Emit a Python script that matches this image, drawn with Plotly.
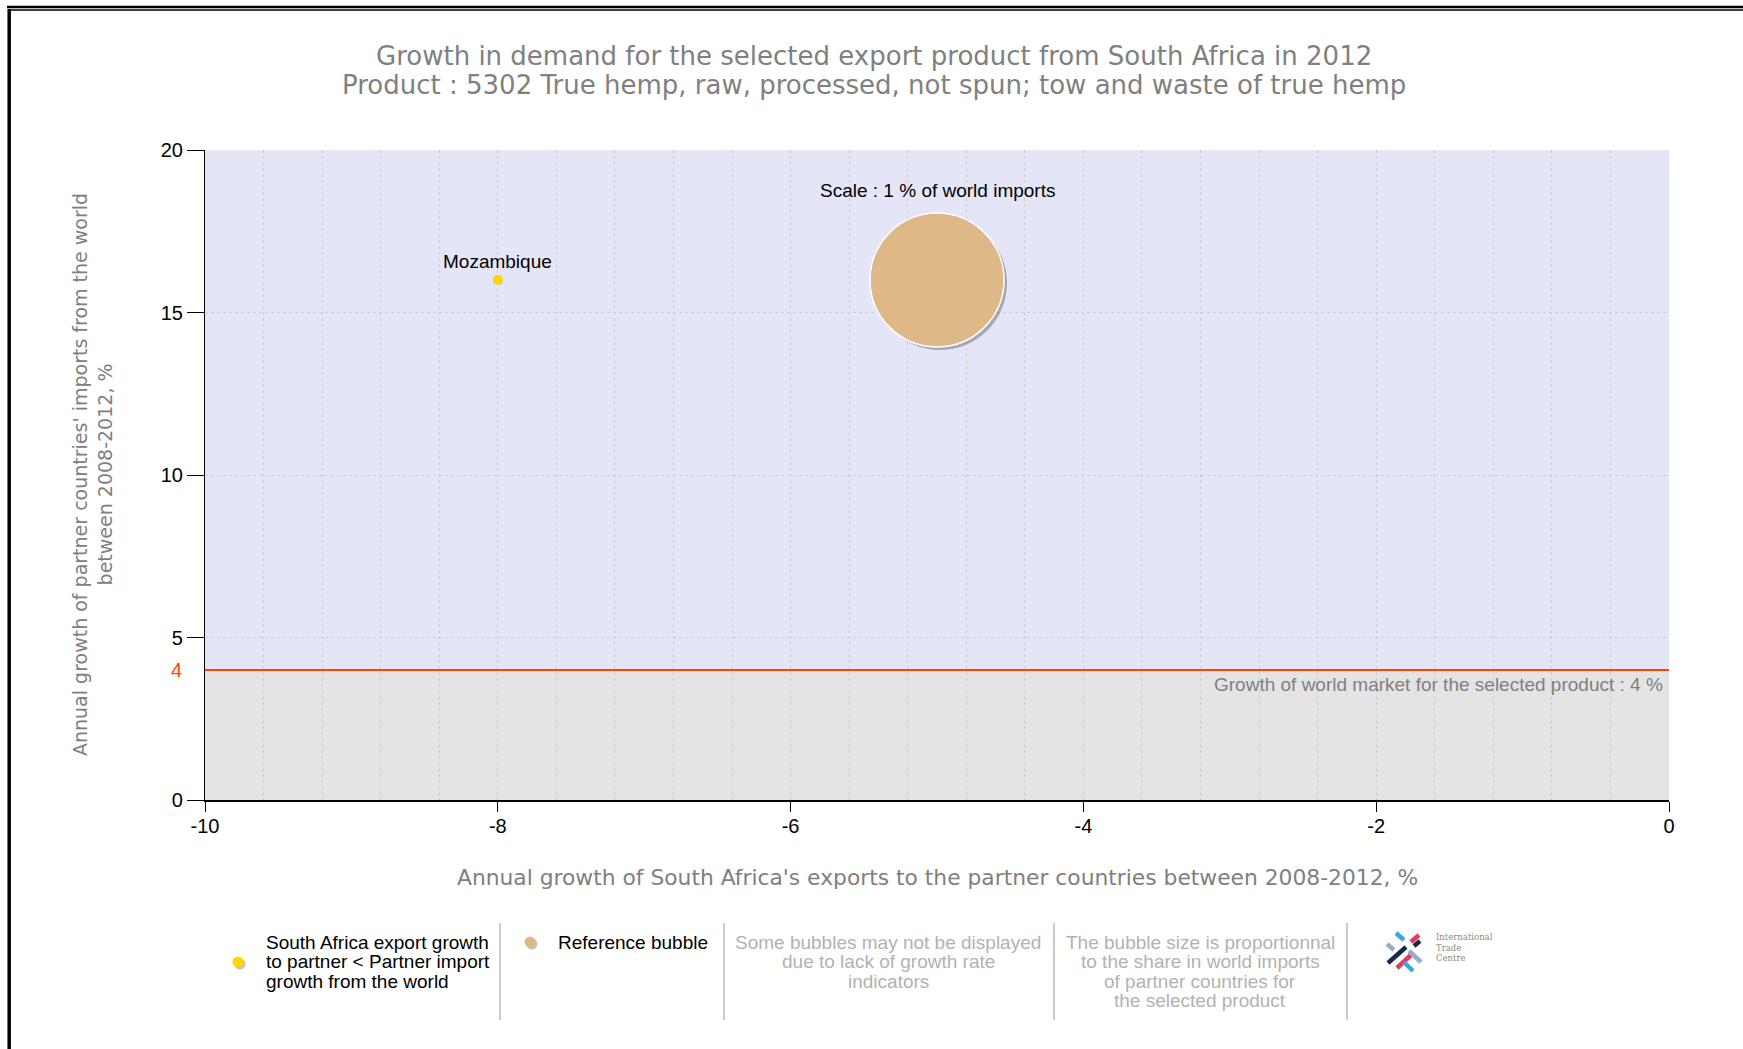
import plotly.graph_objects as go

# ---------------- data ----------------
countries = ["Mozambique"]
export_growth = [-8]          # x, %
import_growth = [16]          # y, %
world_share = [0.002]         # % of world imports (bubble area)

ref_label = ["Scale : 1 % of world imports"]
ref_x = [-5]
ref_y = [16]
ref_share = [1]

world_growth = 4
x_range = [-10, 0]
y_range = [0, 20]
x_ticks = [-10, -8, -6, -4, -2, 0]
y_ticks = [0, 5, 10, 15, 20]

title_lines = ["Growth in demand for the selected export product from South Africa in 2012",
               "Product : 5302 True hemp, raw, processed, not spun; tow and waste of true hemp"]
x_title = "Annual growth of South Africa's exports to the partner countries between 2008-2012, %"
y_title = "Annual growth of partner countries' imports from the world<br>between 2008-2012, %"
world_text = "Growth of world market for the selected product : 4 %"

legend1 = ["South Africa export growth", "to partner < Partner import", "growth from the world"]
legend2 = ["Reference bubble"]
legend3 = ["Some bubbles may not be displayed", "due to lack of growth rate", "indicators"]
legend4 = ["The bubble size is proportionnal", "to the share in world imports",
           "of partner countries for", "the selected product"]

# ---------------- geometry ----------------
WIDTH, HEIGHT = 1743, 1049
L, R, T, B = 205, 74, 150, 249
PW = WIDTH - L - R
PH = HEIGHT - T - B
REF_DIAM = 134.0
SIZEREF = 2.0 * ref_share[0] / REF_DIAM ** 2


def PX(x):
    return (x - L) / PW


def PY(y):
    return (HEIGHT - B - y) / PH


def diam(share):
    return REF_DIAM * (share / ref_share[0]) ** 0.5


LAV = "#E5E5F8"
GREY_BG = "#E4E4E4"
ORANGE = "#FF4500"
GRID = "#CDCDCD"
TXT_GREY = "#808080"
LIGHT_GREY = "#B2B2B2"
TAN = "#DEB887"
YELLOW = "#FFD700"
LBL = 19

fig = go.Figure()

# partner bubbles
fig.add_trace(go.Scatter(
    x=export_growth, y=import_growth, mode="markers",
    marker=dict(size=world_share, sizemode="area", sizeref=SIZEREF, sizemin=5,
                color=YELLOW, opacity=1, line=dict(width=0)),
    hoverinfo="text", text=countries, showlegend=False))

# reference bubble
fig.add_trace(go.Scatter(
    x=ref_x, y=ref_y, mode="markers",
    marker=dict(size=ref_share, sizemode="area", sizeref=SIZEREF, opacity=1,
                color=TAN, line=dict(width=1.5, color="white")),
    hoverinfo="skip", showlegend=False))

shapes = []
# quadrant backgrounds
shapes.append(dict(type="rect", xref="x", yref="y", x0=x_range[0], x1=x_range[1],
                   y0=world_growth, y1=y_range[1], fillcolor=LAV, line=dict(width=0), layer="below"))
shapes.append(dict(type="rect", xref="x", yref="y", x0=x_range[0], x1=x_range[1],
                   y0=y_range[0], y1=world_growth, fillcolor=GREY_BG, line=dict(width=0), layer="below"))

# bubble shadows
for xs, ys, sh in [(export_growth, import_growth, world_share), (ref_x, ref_y, ref_share)]:
    for xv, yv, s in zip(xs, ys, sh):
        r = max(diam(s), 5) / 2
        off = 3 if r > 10 else 1.5
        shapes.append(dict(type="circle", xref="x", yref="y",
                           xsizemode="pixel", ysizemode="pixel", xanchor=xv, yanchor=yv,
                           x0=-r + off, x1=r + off, y0=-r - off, y1=r - off,
                           fillcolor="rgba(90,90,90,0.45)", line=dict(width=0), layer="between"))

# world growth line
shapes.append(dict(type="line", xref="x", yref="y", x0=x_range[0], x1=x_range[1],
                   y0=world_growth, y1=world_growth, line=dict(color=ORANGE, width=2)))

# outer frame
shapes.append(dict(type="line", xref="paper", yref="paper", x0=PX(7), x1=PX(WIDTH),
                   y0=PY(7), y1=PY(7), line=dict(color="black", width=2.5)))
shapes.append(dict(type="line", xref="paper", yref="paper", x0=PX(9), x1=PX(WIDTH),
                   y0=PY(10), y1=PY(10), line=dict(color="black", width=1.5)))
shapes.append(dict(type="line", xref="paper", yref="paper", x0=PX(9.2), x1=PX(9.2),
                   y0=PY(9), y1=PY(HEIGHT), line=dict(color="black", width=3.5)))

# legend separators
for sx in [500, 724, 1054, 1347]:
    shapes.append(dict(type="line", xref="paper", yref="paper", x0=PX(sx), x1=PX(sx),
                       y0=PY(923), y1=PY(1020), line=dict(color="#A8A8A8", width=1.2)))

# legend symbols (with shadows)
for cx, cy, col in [(238, 962, YELLOW), (530, 942, TAN)]:
    r = 5.5
    shapes.append(dict(type="circle", xref="paper", yref="paper",
                       x0=PX(cx - r + 2), x1=PX(cx + r + 2), y0=PY(cy - r + 2), y1=PY(cy + r + 2),
                       fillcolor="rgba(120,120,120,0.45)", line=dict(width=0)))
    shapes.append(dict(type="circle", xref="paper", yref="paper",
                       x0=PX(cx - r), x1=PX(cx + r), y0=PY(cy - r), y1=PY(cy + r),
                       fillcolor=col, line=dict(width=0)))

# ITC logo (bars)
logo_bars = [
    ((1396, 933), (1404, 940), "#3AA7E0"),
    ((1419, 935), (1411, 942), "#E43A5E"),
    ((1387, 944), (1394, 950), "#97AECB"),
    ((1388, 963), (1406, 947), "#17284A"),
    ((1414, 946), (1420, 941), "#17284A"),
    ((1397, 968), (1412, 954), "#E43A5E"),
    ((1409, 951), (1421, 962), "#97AECB"),
    ((1404, 962), (1413, 971), "#3AA7E0"),
]
for (xa, ya), (xb, yb), col in logo_bars:
    shapes.append(dict(type="line", xref="paper", yref="paper",
                       x0=PX(xa), x1=PX(xb), y0=PY(ya), y1=PY(yb),
                       line=dict(color=col, width=4.5)))

annotations = []
# title
for i, line in enumerate(title_lines):
    annotations.append(dict(text=line, xref="paper", yref="paper", x=PX(874), y=PY(56 + 29 * i),
                            xanchor="center", yanchor="middle", showarrow=False,
                            font=dict(family="DejaVu Sans", size=26, color=TXT_GREY)))
# axis titles
annotations.append(dict(text=x_title, xref="paper", yref="paper", x=PX(937), y=PY(877),
                        xanchor="center", yanchor="middle", showarrow=False,
                        font=dict(family="DejaVu Sans", size=21.8, color=TXT_GREY)))
annotations.append(dict(text=y_title, xref="paper", yref="paper", x=PX(92), y=PY(475),
                        xanchor="center", yanchor="middle", showarrow=False, textangle=-90,
                        font=dict(family="DejaVu Sans", size=19, color=TXT_GREY)))
# world growth tick label
annotations.append(dict(text=str(world_growth), xref="paper", yref="y", x=PX(184), y=world_growth,
                        xanchor="right", yanchor="middle", showarrow=False,
                        font=dict(family="Liberation Sans", size=20, color=ORANGE)))
annotations.append(dict(text=world_text, xref="x", yref="y", x=x_range[1], y=world_growth,
                        xanchor="right", yanchor="top", xshift=-4, yshift=-2, showarrow=False,
                        font=dict(family="Liberation Sans", size=LBL, color=TXT_GREY)))
# bubble labels
for name, xv, yv in zip(countries, export_growth, import_growth):
    annotations.append(dict(text=name, xref="x", yref="y", x=xv, y=yv, yshift=19,
                            xanchor="center", yanchor="middle", showarrow=False,
                            font=dict(family="Liberation Sans", size=LBL, color="black")))
for name, xv, yv in zip(ref_label, ref_x, ref_y):
    annotations.append(dict(text=name, xref="x", yref="y", x=xv, y=yv, yshift=90,
                            xanchor="center", yanchor="middle", showarrow=False,
                            font=dict(family="Liberation Sans", size=LBL, color="black")))

# legend texts
line_y = [942, 961.5, 981, 1000.5]
for i, t in enumerate(legend1):
    annotations.append(dict(text=t, xref="paper", yref="paper", x=PX(264), y=PY(line_y[i]),
                            xanchor="left", yanchor="middle", showarrow=False,
                            font=dict(family="Liberation Sans", size=LBL, color="black")))
for i, t in enumerate(legend2):
    annotations.append(dict(text=t, xref="paper", yref="paper", x=PX(556), y=PY(line_y[i]),
                            xanchor="left", yanchor="middle", showarrow=False,
                            font=dict(family="Liberation Sans", size=LBL, color="black")))
for i, t in enumerate(legend3):
    annotations.append(dict(text=t, xref="paper", yref="paper", x=PX(888), y=PY(line_y[i]),
                            xanchor="center", yanchor="middle", showarrow=False,
                            font=dict(family="Liberation Sans", size=LBL, color=LIGHT_GREY)))
for i, t in enumerate(legend4):
    annotations.append(dict(text=t, xref="paper", yref="paper", x=PX(1200), y=PY(line_y[i]),
                            xanchor="center", yanchor="middle", showarrow=False,
                            font=dict(family="Liberation Sans", size=LBL, color=LIGHT_GREY)))
# logo text
for i, t in enumerate(["International", "Trade", "Centre"]):
    annotations.append(dict(text=t, xref="paper", yref="paper", x=PX(1434), y=PY(937 + 10.5 * i),
                            xanchor="left", yanchor="middle", showarrow=False,
                            font=dict(family="DejaVu Serif", size=8.5, color="#8A8A8A")))

fig.update_layout(
    width=WIDTH, height=HEIGHT,
    margin=dict(l=L, r=R, t=T, b=B, pad=0),
    paper_bgcolor="white", plot_bgcolor="white",
    showlegend=False,
    shapes=shapes, annotations=annotations,
    font=dict(family="Liberation Sans", color="black"),
)
fig.update_xaxes(
    range=x_range, tickvals=x_ticks, ticktext=[str(v) for v in x_ticks],
    ticks="outside", ticklen=10, tickwidth=1.2, tickcolor="black", ticklabelstandoff=-3,
    showline=True, linecolor="black", linewidth=2, zeroline=False,
    showgrid=True, gridcolor=GRID, griddash="dot", gridwidth=1,
    minor=dict(dtick=0.4, showgrid=True, gridcolor=GRID, griddash="dot", gridwidth=1, ticks=""),
    tickfont=dict(family="Liberation Sans", size=20, color="black"),
    fixedrange=True,
)
fig.update_yaxes(
    range=y_range, tickvals=y_ticks, ticktext=[str(v) for v in y_ticks],
    ticks="outside", ticklen=17, tickwidth=1.2, tickcolor="black",
    showline=True, linecolor="black", linewidth=1.2, zeroline=False,
    showgrid=True, gridcolor=GRID, griddash="dot", gridwidth=1,
    tickfont=dict(family="Liberation Sans", size=20, color="black"),
    fixedrange=True,
)

fig.write_html("out.html", config={"displayModeBar": False},
               post_script="document.body.style.margin='0';document.body.style.overflow='hidden';")
